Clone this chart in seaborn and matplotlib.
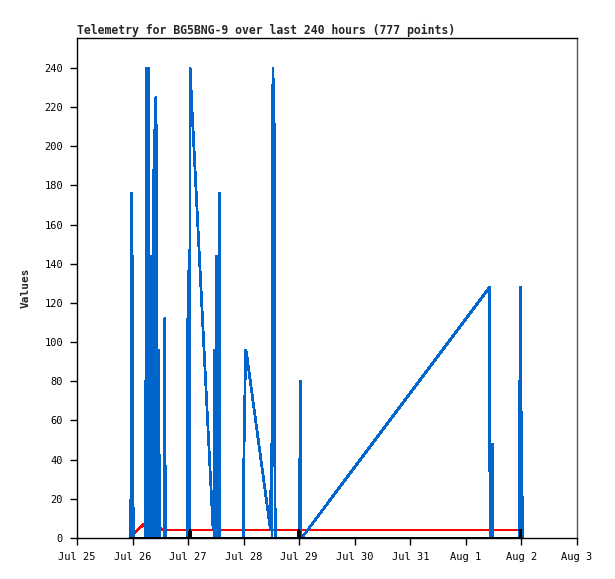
import matplotlib
matplotlib.use("Agg")
import matplotlib.pyplot as plt
import seaborn as sns
import pandas as pd

# ---- data: pixel-read positions converted to hours since Jul 25 00:00 ----
# blue series as (x-pixel, value) pairs, converted below
blue_px = [130.8, 131.4, 132.0, 132.6, 133.2,
           145.0, 145.5, 146.0, 146.8, 147.6, 148.4, 149.0, 149.6, 150.2, 150.8,
           151.4, 152.0, 152.6, 153.2, 153.8, 154.5, 155.1, 155.8, 156.4, 157.0,
           157.6, 158.2, 158.8, 159.4, 160.0,
           164.3, 164.8, 165.3,
           187.2, 187.7, 188.3, 188.9, 189.5, 190.1, 190.7, 191.3,
           213.0, 213.5, 214.0, 214.8, 215.4, 216.4, 217.0, 218.0, 218.6,
           219.4, 220.0,
           243.2, 243.6, 244.6, 245.6, 246.6, 270.5, 271.3, 272.0, 272.9,
           274.3, 275.2,
           299.2, 299.6, 300.3, 301.0, 301.6,
           489.5, 490.0, 490.4, 490.9, 491.4, 492.0, 492.6, 493.1,
           519.2, 519.6, 520.2, 520.7, 521.3, 521.8, 522.3]
blue_values = [0, 176, 0, 144, 0,
               0, 80, 0, 240, 0, 240, 144, 20, 144, 0,
               104, 64, 0, 188, 0, 208, 0, 225, 200, 0,
               96, 0, 96, 0, 0,
               0, 112, 0,
               0, 112, 0, 144, 0, 240, 235, 226,
               5, 24, 0, 96, 0, 144, 0, 80, 0,
               176, 0,
               0, 32, 64, 96, 94, 4, 48, 0, 240,
               208, 0,
               0, 16, 80, 0, 0,
               128, 0, 48, 0, 48, 0, 48, 0,
               0, 80, 0, 128, 0, 64, 0]

red_px = [130.0, 134.0, 145.0, 158.0, 162.5, 521.0]
red_values = [4.6, 2.5, 7.5, 6.5, 4, 4]

black_px = [130.7, 189.8, 190.0, 190.2, 298.8, 299.0, 299.2, 520.6, 520.8, 521.0, 521.2]
black_values = [0, 0, 4, 0, 0, 4, 0, 0, 4, 0, 0]

x_tick_labels = ["Jul 25", "Jul 26", "Jul 27", "Jul 28", "Jul 29", "Jul 30",
                 "Jul 31", "Aug 1", "Aug 2", "Aug 3"]
y_ticks = [0, 20, 40, 60, 80, 100, 120, 140, 160, 180, 200, 220, 240]

start = pd.Timestamp("2024-07-25 00:00")
# reference axis: 500 px span for 216 hours starting at pixel 77
to_time = lambda pxs: [start + pd.Timedelta(hours=(p - 77) * 216 / 500) for p in pxs]

blue_df = pd.DataFrame({"time": to_time(blue_px), "value": blue_values})
red_df = pd.DataFrame({"time": to_time(red_px), "value": red_values})
black_df = pd.DataFrame({"time": to_time(black_px), "value": black_values})

sns.set_style("ticks")
plt.rcParams["font.family"] = ["DejaVu Sans Mono", "DejaVu Sans"]

fig = plt.figure(figsize=(6.15, 5.79), dpi=100)
ax = fig.add_axes([77/615, 1 - 538/579, 500/615, 500/579])

sns.lineplot(data=red_df, x="time", y="value", color="#ff0000", linewidth=1.2,
             estimator=None, sort=False, ax=ax, zorder=2, antialiased=False)
sns.lineplot(data=blue_df, x="time", y="value", color="#0066cc", linewidth=1.25,
             estimator=None, sort=False, ax=ax, zorder=3, antialiased=False)
sns.lineplot(data=black_df, x="time", y="value", color="#000000", linewidth=1.4,
             estimator=None, sort=False, ax=ax, zorder=4, antialiased=False)

tick_times = [start + pd.Timedelta(days=i) for i in range(len(x_tick_labels))]
ax.set_xlim(tick_times[0], tick_times[-1])
ax.set_xticks(tick_times)
ax.set_xticklabels(x_tick_labels)
ax.set_ylim(0, 255.3)
ax.set_yticks(y_ticks)
ax.set_yticklabels([str(v) for v in y_ticks])

ax.tick_params(axis="both", direction="out", length=5, width=1, colors="black",
               labelsize=7.5, pad=5)
for side in ["left", "bottom", "top"]:
    ax.spines[side].set_visible(True)
    ax.spines[side].set_color("black")
    ax.spines[side].set_linewidth(1)
ax.spines["right"].set_visible(True)
ax.spines["right"].set_color("#555555")
ax.spines["right"].set_linewidth(1)

ax.set_xlabel("")
ax.set_ylabel("Values", fontsize=8, fontweight="bold", labelpad=10)
ax.set_title("Telemetry for BG5BNG-9 over last 240 hours (777 points)",
             loc="left", fontsize=8.3, fontweight="bold", pad=3)
ax.grid(False)

fig.savefig("out.png", dpi=100)
